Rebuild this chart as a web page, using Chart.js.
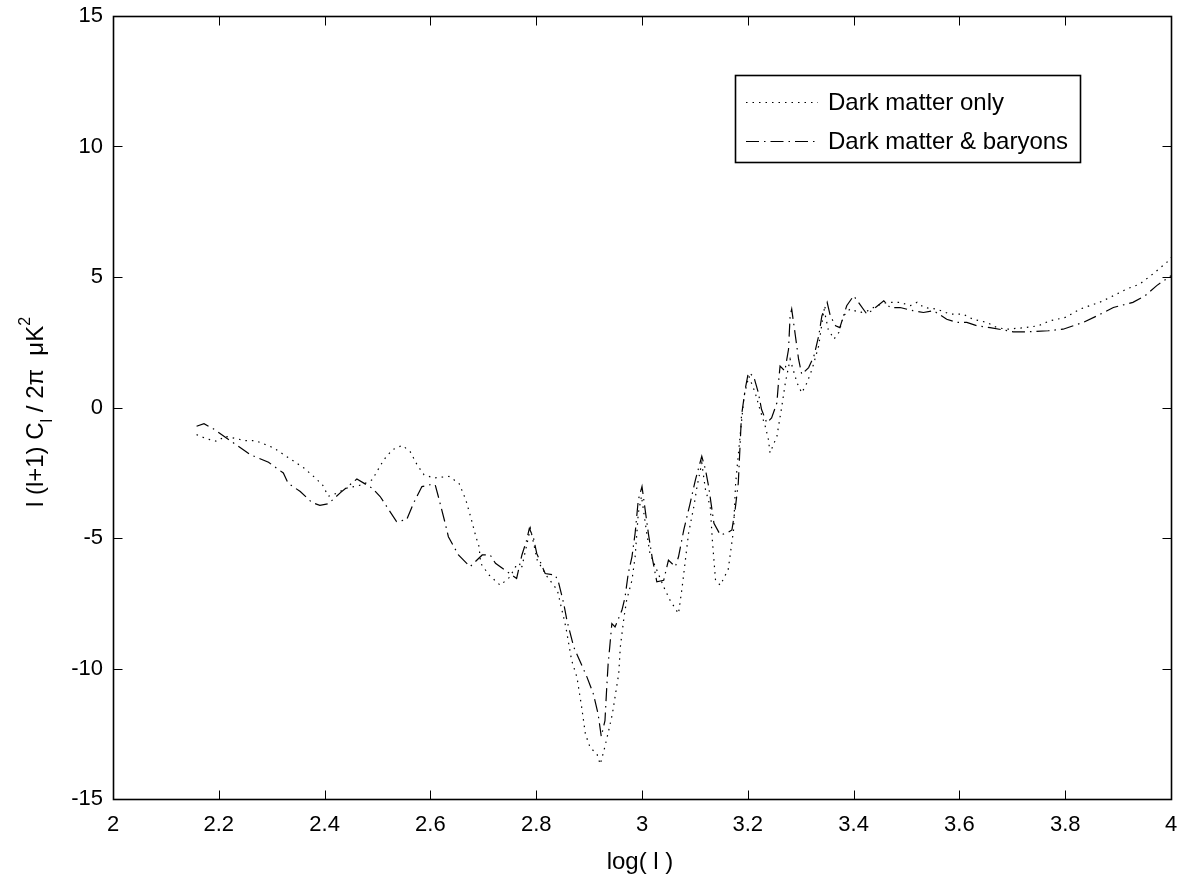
<!DOCTYPE html>
<html>
<head>
<meta charset="utf-8">
<script src="https://cdn.jsdelivr.net/npm/chart.js@4/dist/chart.umd.min.js"></script>
<style>
  html, body { margin: 0; padding: 0; background: #fff; }
  #wrap { width: 1180px; height: 876px; position: relative; }
</style>
</head>
<body>
<div id="wrap"><canvas id="spec"></canvas></div>
<script>
// log(l) and l(l+1)Cl/2pi for both runs
const darkOnlyX = [2.158, 2.177, 2.197, 2.212, 2.25, 2.269, 2.288, 2.304, 2.323, 2.342, 2.361, 2.377, 2.396, 2.407, 2.421, 2.442, 2.471, 2.49, 2.501, 2.512, 2.528, 2.547, 2.562, 2.575, 2.588, 2.606, 2.635, 2.654, 2.667, 2.676, 2.686, 2.692, 2.695, 2.711, 2.732, 2.75, 2.761, 2.773, 2.789, 2.802, 2.821, 2.84, 2.856, 2.867, 2.877, 2.886, 2.893, 2.902, 2.915, 2.921, 2.928, 2.937, 2.944, 2.95, 2.956, 2.959, 2.966, 2.971, 2.981, 2.987, 2.993, 2.999, 3.009, 3.015, 3.028, 3.041, 3.053, 3.069, 3.076, 3.082, 3.088, 3.098, 3.104, 3.113, 3.12, 3.129, 3.133, 3.139, 3.148, 3.163, 3.173, 3.177, 3.186, 3.193, 3.202, 3.214, 3.223, 3.233, 3.239, 3.242, 3.255, 3.264, 3.271, 3.28, 3.293, 3.302, 3.312, 3.322, 3.334, 3.344, 3.352, 3.363, 3.372, 3.381, 3.393, 3.412, 3.426, 3.444, 3.463, 3.488, 3.507, 3.52, 3.533, 3.557, 3.582, 3.607, 3.626, 3.652, 3.671, 3.69, 3.724, 3.749, 3.771, 3.8, 3.828, 3.865, 3.891, 3.916, 3.941, 3.966, 3.992, 4.0];
const darkOnlyY = [-1.04, -1.2, -1.3, -1.1, -1.27, -1.27, -1.42, -1.55, -1.81, -2.06, -2.32, -2.6, -2.96, -3.4, -3.3, -3.09, -2.96, -2.77, -2.38, -2.0, -1.62, -1.45, -1.7, -2.2, -2.58, -2.7, -2.64, -2.9, -3.54, -4.18, -4.95, -5.33, -5.97, -6.42, -6.81, -6.5, -6.1, -6.1, -4.63, -5.85, -6.49, -7.0, -8.41, -9.69, -10.33, -11.49, -12.51, -13.03, -13.28, -13.67, -13.15, -12.38, -11.74, -10.97, -10.2, -9.18, -8.03, -7.38, -6.62, -5.72, -4.05, -3.4, -4.82, -5.59, -6.23, -6.87, -7.38, -7.9, -6.87, -5.85, -4.82, -3.8, -3.03, -2.13, -3.15, -3.8, -5.08, -6.62, -6.81, -6.2, -4.7, -2.9, -0.97, 0.44, 1.2, 0.56, -0.08, -0.72, -1.23, -1.74, -1.1, 0.0, 0.95, 1.85, 0.95, 0.56, 0.95, 1.5, 2.36, 3.77, 3.0, 2.62, 2.87, 3.51, 3.77, 3.64, 3.7, 3.9, 4.03, 4.03, 3.9, 4.03, 3.83, 3.77, 3.58, 3.58, 3.38, 3.26, 3.06, 3.0, 3.06, 3.13, 3.32, 3.45, 3.77, 4.03, 4.28, 4.54, 4.73, 5.12, 5.56, 5.75];

const baryonX = [2.158, 2.172, 2.19, 2.228, 2.26, 2.294, 2.322, 2.331, 2.354, 2.376, 2.391, 2.407, 2.43, 2.461, 2.49, 2.505, 2.536, 2.555, 2.568, 2.584, 2.599, 2.609, 2.615, 2.628, 2.634, 2.653, 2.675, 2.698, 2.713, 2.723, 2.745, 2.763, 2.773, 2.782, 2.787, 2.795, 2.801, 2.817, 2.836, 2.842, 2.852, 2.858, 2.871, 2.896, 2.908, 2.917, 2.923, 2.93, 2.933, 2.936, 2.939, 2.943, 2.949, 2.962, 2.968, 2.974, 2.981, 2.987, 2.993, 3.0, 3.006, 3.012, 3.019, 3.028, 3.041, 3.05, 3.063, 3.069, 3.079, 3.091, 3.101, 3.113, 3.12, 3.126, 3.136, 3.148, 3.16, 3.17, 3.176, 3.182, 3.185, 3.188, 3.195, 3.201, 3.211, 3.22, 3.226, 3.236, 3.245, 3.255, 3.258, 3.261, 3.27, 3.277, 3.28, 3.283, 3.29, 3.296, 3.302, 3.315, 3.325, 3.334, 3.34, 3.35, 3.356, 3.366, 3.374, 3.387, 3.4, 3.409, 3.425, 3.434, 3.457, 3.469, 3.488, 3.512, 3.532, 3.551, 3.576, 3.595, 3.614, 3.633, 3.658, 3.702, 3.73, 3.768, 3.796, 3.834, 3.86, 3.891, 3.928, 3.951, 3.973, 4.0];
const baryonY = [-0.72, -0.62, -0.82, -1.36, -1.81, -2.1, -2.51, -2.9, -3.22, -3.64, -3.75, -3.69, -3.26, -2.74, -3.09, -3.41, -4.37, -4.3, -3.67, -3.03, -2.96, -2.96, -3.41, -4.44, -4.95, -5.65, -6.1, -5.65, -5.65, -5.97, -6.29, -6.55, -5.65, -5.08, -4.63, -5.01, -5.59, -6.36, -6.42, -6.68, -7.51, -8.15, -9.18, -10.33, -10.97, -11.74, -12.6, -12.0, -10.85, -9.82, -9.18, -8.28, -8.41, -7.77, -7.26, -6.36, -5.72, -4.82, -3.54, -3.03, -3.92, -4.82, -5.72, -6.68, -6.62, -5.85, -6.1, -5.72, -4.69, -3.67, -2.77, -1.87, -2.38, -3.03, -4.44, -4.88, -4.82, -4.69, -3.92, -2.9, -1.62, -0.33, 0.69, 1.33, 1.2, 0.56, -0.08, -0.59, -0.4, 0.18, 0.95, 1.59, 1.4, 2.23, 3.51, 3.77, 2.74, 1.85, 1.27, 1.53, 1.97, 2.74, 3.51, 4.03, 3.51, 3.13, 3.06, 3.9, 4.28, 4.03, 3.58, 3.71, 4.09, 3.83, 3.83, 3.71, 3.64, 3.71, 3.38, 3.26, 3.26, 3.13, 3.06, 2.9, 2.9, 2.94, 3.0, 3.26, 3.51, 3.83, 4.03, 4.28, 4.67, 5.05];

const seriesNames = ["Dark matter only", "Dark matter & baryons"];
const xTicks = [2, 2.2, 2.4, 2.6, 2.8, 3, 3.2, 3.4, 3.6, 3.8, 4];
const yTicks = [-15, -10, -5, 0, 5, 10, 15];

const FONT = "'Liberation Sans', Arial, Helvetica, sans-serif";
const DOTTED = [1.5, 5];
const DASHDOT = [13, 5, 1.5, 5];

function toPoints(xs, ys) {
  return xs.map((x, i) => ({ x, y: ys[i] }));
}

// MATLAB style box, inward ticks on all sides, legend and axis labels
const matlabFrame = {
  id: "matlabFrame",
  afterDraw(chart) {
    const { ctx, chartArea: a, scales } = chart;
    const L = Math.round(a.left) + 0.5, R = Math.round(a.right) + 0.5;
    const T = Math.round(a.top) + 0.5, B = Math.round(a.bottom) + 0.5;
    ctx.save();
    ctx.strokeStyle = "#000";
    ctx.lineWidth = 1;
    ctx.setLineDash([]);
    ctx.beginPath();
    xTicks.forEach(v => {
      const px = Math.round(scales.x.getPixelForValue(v)) + 0.5;
      ctx.moveTo(px, B); ctx.lineTo(px, B - 9);
      ctx.moveTo(px, T); ctx.lineTo(px, T + 9);
    });
    yTicks.forEach(v => {
      const py = Math.round(scales.y.getPixelForValue(v)) + 0.5;
      ctx.moveTo(L, py); ctx.lineTo(L + 9, py);
      ctx.moveTo(R, py); ctx.lineTo(R - 9, py);
    });
    ctx.stroke();
    ctx.lineWidth = 1.6;
    ctx.strokeRect(L, T, R - L, B - T);

    // legend
    const lx = 735.5, ly = 75.5, lw = 345, lh = 87;
    ctx.fillStyle = "#fff";
    ctx.fillRect(lx, ly, lw, lh);
    ctx.lineWidth = 1.6;
    ctx.strokeRect(lx, ly, lw, lh);
    ctx.lineWidth = 1;
    [[DOTTED, 102], [DASHDOT, 141]].forEach(([dash, y], i) => {
      ctx.setLineDash(dash);
      ctx.beginPath();
      ctx.moveTo(746, y + 0.5);
      ctx.lineTo(818, y + 0.5);
      ctx.stroke();
      ctx.setLineDash([]);
      ctx.fillStyle = "#000";
      ctx.font = "24px " + FONT;
      ctx.textAlign = "left";
      ctx.textBaseline = "middle";
      ctx.fillText(seriesNames[i], 828, y + 1);
    });

    // x label
    ctx.font = "24px " + FONT;
    ctx.textAlign = "center";
    ctx.textBaseline = "alphabetic";
    ctx.fillText("log( l )", 640, 869);

    // y label with subscript and superscript
    const parts = [
      { t: "l (l+1) C", size: 24, dy: 0 },
      { t: "l", size: 16, dy: 9 },
      { t: " / 2\u03c0  \u03bcK", size: 24, dy: 0 },
      { t: "2", size: 16, dy: -13 }
    ];
    let total = 0;
    parts.forEach(p => { ctx.font = p.size + "px " + FONT; p.w = ctx.measureText(p.t).width; total += p.w; });
    ctx.translate(43, 412);
    ctx.rotate(-Math.PI / 2);
    ctx.textAlign = "left";
    let cx = -total / 2;
    parts.forEach(p => {
      ctx.font = p.size + "px " + FONT;
      ctx.fillText(p.t, cx, p.dy);
      cx += p.w;
    });
    ctx.restore();
  }
};

new Chart(document.getElementById("spec"), {
  type: "line",
  data: {
    datasets: [
      {
        label: seriesNames[0],
        data: toPoints(darkOnlyX, darkOnlyY),
        borderColor: "#000",
        borderWidth: 1.2,
        borderDash: DOTTED,
        pointRadius: 0,
        tension: 0,
        fill: false
      },
      {
        label: seriesNames[1],
        data: toPoints(baryonX, baryonY),
        borderColor: "#000",
        borderWidth: 1.2,
        borderDash: DASHDOT,
        pointRadius: 0,
        tension: 0,
        fill: false
      }
    ]
  },
  options: {
    responsive: true,
    maintainAspectRatio: false,
    animation: false,
    layout: { padding: { left: 0, right: 9, top: 16, bottom: 0 } },
    plugins: { legend: { display: false }, tooltip: { enabled: false } },
    scales: {
      x: {
        type: "linear",
        min: 2,
        max: 4,
        afterFit: s => { s.height = 77; s.paddingLeft = 0; s.paddingRight = 0; },
        afterBuildTicks: s => { s.ticks = xTicks.map(v => ({ value: v })); },
        grid: { display: false, drawTicks: false },
        border: { display: false },
        ticks: {
          color: "#000",
          padding: 13,
          maxRotation: 0,
          font: { family: FONT, size: 22 },
          callback: v => String(parseFloat(v.toFixed(1)))
        }
      },
      y: {
        type: "linear",
        min: -15,
        max: 15,
        afterFit: s => { s.width = 113; s.paddingTop = 0; s.paddingBottom = 0; },
        afterBuildTicks: s => { s.ticks = yTicks.map(v => ({ value: v })); },
        grid: { display: false, drawTicks: false },
        border: { display: false },
        ticks: {
          color: "#000",
          padding: 10,
          font: { family: FONT, size: 22 }
        }
      }
    }
  },
  plugins: [matlabFrame]
});
</script>
</body>
</html>
